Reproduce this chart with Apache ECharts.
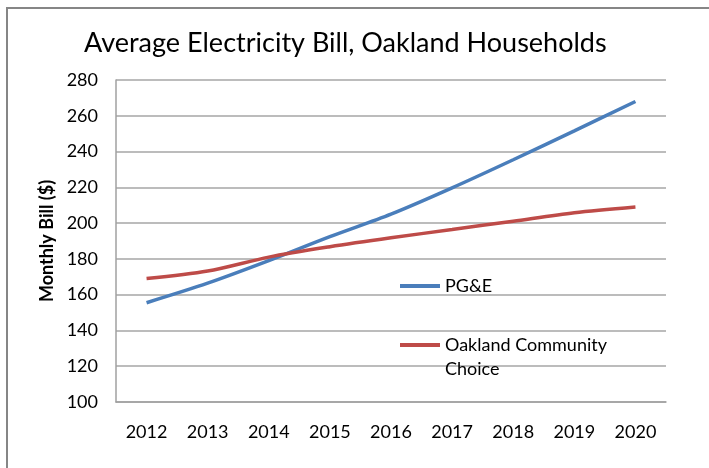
<!DOCTYPE html>
<html>
<head>
<meta charset="utf-8">
<script src="https://cdn.jsdelivr.net/npm/echarts@6/dist/echarts.min.js"></script>
<style>html,body{margin:0;padding:0;background:#fff}#c{width:709px;height:468px}</style>
</head>
<body>
<div id="c"></div>
<script>
const years = ['2012','2013','2014','2015','2016','2017','2018','2019','2020'];
const pge = [155.5, 166.4, 179, 192.4, 205, 219.7, 235.4, 251.6, 268];
const occ = [169, 173.2, 181, 186.8, 191.8, 196.4, 201.1, 205.8, 209];
const titleText = 'Average Electricity Bill, Oakland Households';
const yName = 'Monthly Bill ($)';
const seriesNames = ['PG&E', 'Oakland Community\nChoice'];

const FONT = 'Lato';
const chart = echarts.init(document.getElementById('c'), null, {renderer: 'canvas'});
chart.setOption({
  animation: false,
  backgroundColor: '#fff',
  graphic: [{
    type: 'rect', shape: {x: 7, y: 8, width: 760, height: 520},
    style: {fill: 'none', stroke: '#868686', lineWidth: 2}, silent: true, z: -1
  }],
  title: {
    text: titleText, left: 79, top: 25,
    textStyle: {fontFamily: FONT, fontSize: 27, fontWeight: 'normal', color: '#000'}
  },
  grid: {left: 116, right: 43, top: 80, bottom: 66, containLabel: false},
  legend: {
    orient: 'vertical', left: 395, top: 269, itemGap: 11,
    itemWidth: 40, itemHeight: 4, icon: 'rect',
    textStyle: {fontFamily: FONT, fontSize: 18, color: '#000', lineHeight: 24},
    formatter: function (name) { return name === seriesNames[1] ? '\n' + name : name; },
    data: [{name: seriesNames[0]}, {name: seriesNames[1]}]
  },
  xAxis: {
    type: 'category', data: years, boundaryGap: true,
    axisLine: {lineStyle: {color: '#a0a0a0', width: 1.5}},
    axisTick: {show: false},
    axisLabel: {fontFamily: FONT, fontSize: 18, color: '#000', margin: 21}
  },
  yAxis: {
    type: 'value', min: 100, max: 280, interval: 20,
    name: yName, nameLocation: 'middle', nameGap: 60, nameRotate: 90,
    nameTextStyle: {fontFamily: FONT, fontSize: 18, fontWeight: 'bold', color: '#000'},
    axisLine: {show: true, lineStyle: {color: '#a0a0a0', width: 1.5}},
    axisTick: {show: false},
    splitLine: {lineStyle: {color: '#a6a6a6', width: 1.5}},
    axisLabel: {fontFamily: FONT, fontSize: 18, color: '#000', margin: 18}
  },
  series: [
    {name: seriesNames[0], type: 'line', data: pge, smooth: 0.3, showSymbol: false,
     lineStyle: {color: '#4a7ebb', width: 3.5}, itemStyle: {color: '#4a7ebb'}},
    {name: seriesNames[1], type: 'line', data: occ, smooth: 0.3, showSymbol: false,
     lineStyle: {color: '#be4b48', width: 3.5}, itemStyle: {color: '#be4b48'}}
  ]
});
</script>
</body>
</html>
